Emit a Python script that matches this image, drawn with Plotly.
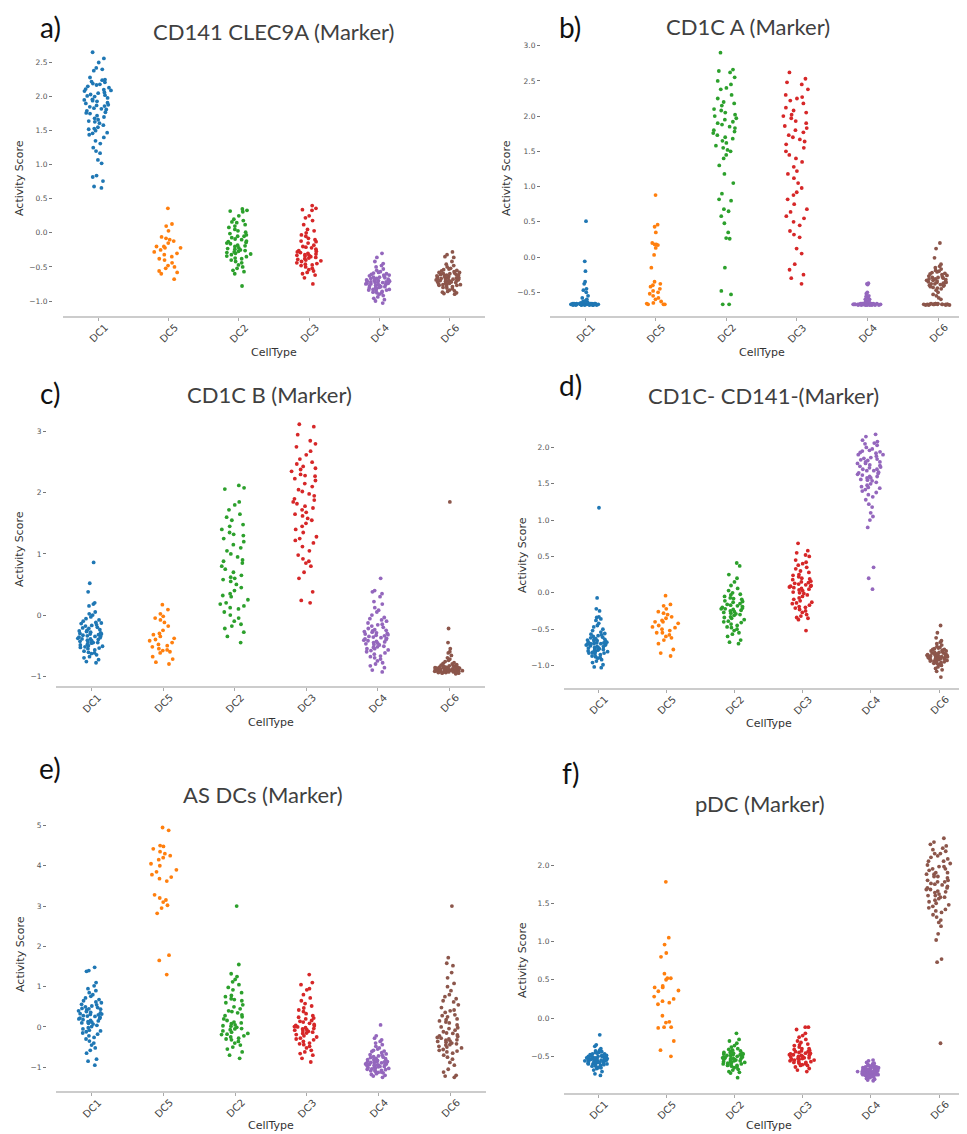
import plotly.graph_objects as go

# ---------------- categories / styling -----------------
categories = ["DC1", "DC5", "DC2", "DC3", "DC4", "DC6"]
colors = ["#1f77b4", "#ff7f0e", "#2ca02c", "#d62728", "#9467bd", "#8c564b"]
panel_labels = ["a)", "b)", "c)", "d)", "e)", "f)"]
panel_titles = ["CD141 CLEC9A (Marker)", "CD1C A (Marker)", "CD1C B (Marker)",
                "CD1C- CD141-(Marker)", "AS DCs (Marker)", "pDC (Marker)"]
x_title = "CellType"
y_title = "Activity Score"

# ---------------- panel a: CD141 CLEC9A -----------------
a_DC1 = [2.65, 2.56, 2.50, 2.42, 2.40, 2.38, 2.28, 2.25, 2.24, 2.22, 2.21, 2.19, 2.17, 2.15, 2.13, 2.11,
         2.10, 2.08, 2.06, 2.05, 2.03, 2.01, 2.00, 1.98, 1.96, 1.95, 1.93, 1.91, 1.90, 1.88, 1.86, 1.85,
         1.83, 1.81, 1.79, 1.77, 1.75, 1.72, 1.70, 1.68, 1.66, 1.63, 1.61, 1.58, 1.55, 1.52, 1.50, 1.47,
         1.44, 1.40, 1.35, 1.31, 1.25, 1.20, 1.17, 1.07, 1.02, 0.84, 0.82, 0.68, 0.66, 0.76,
         2.18, 2.09, 2.02, 1.94, 1.87, 1.82, 1.76, 1.64, 1.53, 1.46]
a_DC5 = [0.36, 0.13, 0.10, 0.03, -0.06, -0.08, -0.12, -0.15, -0.20, -0.20, -0.22, -0.25, -0.28, -0.30,
         -0.32, -0.35, -0.38, -0.40, -0.44, -0.48, -0.50, -0.52, -0.56, -0.58, -0.60, -0.68, -0.22, -0.10]
a_DC2 = [0.35, 0.33, 0.32, 0.31, 0.25, 0.18, 0.16, 0.15, 0.12, 0.10, 0.08, 0.05, 0.03, 0.01, -0.01, -0.03,
         -0.05, -0.07, -0.09, -0.10, -0.12, -0.13, -0.15, -0.16, -0.18, -0.19, -0.20, -0.22, -0.23, -0.25,
         -0.26, -0.27, -0.28, -0.30, -0.31, -0.32, -0.34, -0.35, -0.37, -0.38, -0.40, -0.42, -0.44, -0.47,
         -0.50, -0.52, -0.55, -0.57, -0.60, -0.78, -0.14, -0.24, -0.29, -0.05, 0.20]
a_DC3 = [0.40, 0.36, 0.34, 0.33, 0.25, 0.22, 0.18, 0.12, 0.05, 0.03, 0.00, -0.03, -0.05, -0.08, -0.10,
         -0.13, -0.15, -0.18, -0.20, -0.22, -0.24, -0.26, -0.28, -0.29, -0.30, -0.31, -0.32, -0.33, -0.34,
         -0.35, -0.36, -0.37, -0.38, -0.40, -0.41, -0.42, -0.44, -0.45, -0.47, -0.48, -0.50, -0.52, -0.54,
         -0.56, -0.58, -0.60, -0.62, -0.66, -0.75, -0.27, -0.33, -0.39, -0.46, -0.21, -0.12]
a_DC4 = [-0.30, -0.36, -0.42, -0.45, -0.48, -0.50, -0.53, -0.55, -0.57, -0.58, -0.60, -0.61, -0.62, -0.63,
         -0.64, -0.65, -0.66, -0.67, -0.68, -0.69, -0.70, -0.70, -0.71, -0.72, -0.72, -0.73, -0.74, -0.74,
         -0.75, -0.76, -0.76, -0.77, -0.78, -0.79, -0.80, -0.81, -0.82, -0.83, -0.84, -0.85, -0.86, -0.87,
         -0.88, -0.90, -0.92, -0.94, -0.96, -0.98, -1.00, -1.03, -0.69, -0.73, -0.77, -0.81, -0.65, -0.59,
         -0.71, -0.75, -0.83, -0.88, -0.62, -0.79, -0.67, -0.72, -0.78, -0.84, -0.70, -0.74]
a_DC6 = [-0.28, -0.32, -0.35, -0.36, -0.42, -0.46, -0.48, -0.50, -0.52, -0.54, -0.55, -0.57, -0.58, -0.59,
         -0.60, -0.61, -0.62, -0.63, -0.64, -0.65, -0.65, -0.66, -0.67, -0.67, -0.68, -0.68, -0.69, -0.70,
         -0.70, -0.71, -0.72, -0.72, -0.73, -0.74, -0.75, -0.76, -0.77, -0.78, -0.79, -0.80, -0.82, -0.84,
         -0.86, -0.87, -0.88, -0.89, -0.90, -0.62, -0.66, -0.69, -0.71, -0.74, -0.56, -0.64, -0.75, -0.81,
         -0.58, -0.63, -0.70, -0.77, -0.53, -0.85, -0.60, -0.66, -0.68, -0.72, -0.76, -0.61]

# ---------------- panel b: CD1C A -----------------
b_DC1 = [0.51, -0.06, -0.20, -0.35, -0.38, -0.45, -0.47, -0.50, -0.55, -0.58, -0.60, -0.62, -0.63, -0.64,
         -0.65, -0.65, -0.66, -0.66, -0.67, -0.67, -0.66, -0.67, -0.68, -0.67, -0.67, -0.66, -0.67, -0.68,
         -0.67, -0.67, -0.66, -0.67, -0.68, -0.67, -0.67, -0.66, -0.67, -0.68, -0.67, -0.67, -0.66, -0.67,
         -0.68, -0.67, -0.67, -0.66, -0.67, -0.68, -0.67, -0.67, -0.66, -0.67, -0.68, -0.67, -0.67, -0.66,
         -0.67, -0.68, -0.67, -0.67, -0.66, -0.67]
b_DC5 = [0.88, 0.46, 0.43, 0.35, 0.20, 0.18, 0.18, 0.17, 0.13, 0.03, -0.15, -0.35, -0.38, -0.40, -0.42,
         -0.45, -0.48, -0.50, -0.52, -0.55, -0.58, -0.60, -0.63, -0.65, -0.66, -0.67, -0.67, -0.67]
b_DC2 = [2.90, 2.66, 2.64, 2.62, 2.55, 2.50, 2.45, 2.40, 2.38, 2.30, 2.25, 2.20, 2.18, 2.15, 2.10, 2.08,
         2.05, 2.02, 2.00, 1.97, 1.95, 1.92, 1.90, 1.88, 1.85, 1.83, 1.80, 1.78, 1.76, 1.73, 1.70, 1.68,
         1.65, 1.62, 1.58, 1.55, 1.52, 1.50, 1.45, 1.40, 1.30, 1.18, 1.05, 0.90, 0.82, 0.80, 0.68, 0.65,
         0.58, 0.48, 0.35, 0.27, 0.26, -0.15, -0.48, -0.53, -0.67, -0.67]
b_DC3 = [2.62, 2.53, 2.48, 2.45, 2.38, 2.30, 2.27, 2.25, 2.22, 2.18, 2.12, 2.08, 2.05, 2.02, 2.00, 1.97,
         1.93, 1.90, 1.86, 1.83, 1.80, 1.77, 1.73, 1.70, 1.67, 1.64, 1.60, 1.55, 1.50, 1.45, 1.40, 1.35,
         1.28, 1.22, 1.18, 1.12, 1.05, 0.98, 0.92, 0.88, 0.82, 0.75, 0.68, 0.64, 0.58, 0.55, 0.50, 0.45,
         0.37, 0.32, 0.28, 0.12, 0.05, -0.10, -0.18, -0.25, -0.30, -0.38]
b_DC4 = [-0.37, -0.38, -0.39, -0.50, -0.52, -0.55, -0.56, -0.58, -0.60, -0.60, -0.62, -0.63, -0.63, -0.64,
         -0.65, -0.65, -0.66, -0.66, -0.67, -0.67, -0.66, -0.67, -0.68, -0.67, -0.67, -0.66, -0.67, -0.68,
         -0.67, -0.67, -0.66, -0.67, -0.68, -0.67, -0.67, -0.66, -0.67, -0.68, -0.67, -0.67, -0.66, -0.67,
         -0.68, -0.67, -0.67, -0.66, -0.67, -0.68, -0.67, -0.67, -0.66, -0.67, -0.68, -0.67, -0.67, -0.66,
         -0.67, -0.68, -0.67, -0.67, -0.66, -0.67]
b_DC6 = [0.20, 0.12, -0.01, -0.10, -0.13, -0.15, -0.17, -0.19, -0.20, -0.22, -0.23, -0.25, -0.26, -0.28,
         -0.29, -0.30, -0.31, -0.32, -0.33, -0.34, -0.35, -0.36, -0.37, -0.38, -0.39, -0.40, -0.41, -0.42,
         -0.43, -0.45, -0.47, -0.50, -0.53, -0.55, -0.58, -0.60, -0.27, -0.33, -0.36, -0.40, -0.24, -0.31,
         -0.67, -0.66, -0.67, -0.68, -0.67, -0.67, -0.66, -0.67, -0.68, -0.67, -0.67, -0.66, -0.67, -0.68,
         -0.67, -0.67, -0.66, -0.67, -0.68, -0.67, -0.29, -0.35, -0.38, -0.44, -0.21, -0.32]

# ---------------- panel c: CD1C B -----------------
c_DC1 = [0.86, 0.52, 0.38, 0.20, 0.18, 0.15, 0.05, 0.02, 0.00, -0.03, -0.06, -0.08, -0.10, -0.12, -0.14,
         -0.16, -0.18, -0.20, -0.22, -0.24, -0.25, -0.27, -0.28, -0.30, -0.31, -0.32, -0.34, -0.35, -0.36,
         -0.38, -0.39, -0.40, -0.42, -0.43, -0.45, -0.46, -0.48, -0.50, -0.51, -0.53, -0.55, -0.57, -0.59,
         -0.61, -0.63, -0.65, -0.68, -0.70, -0.73, -0.76, -0.78, -0.33, -0.37, -0.41, -0.29, -0.44, -0.21,
         -0.26, -0.49, -0.17, -0.54, -0.62, -0.35, -0.39, -0.31, -0.45, -0.13, -0.52]
c_DC5 = [0.17, 0.09, 0.02, -0.02, -0.05, -0.08, -0.12, -0.18, -0.25, -0.32, -0.35, -0.38, -0.42, -0.45,
         -0.48, -0.50, -0.52, -0.55, -0.57, -0.60, -0.62, -0.68, -0.72, -0.77, -0.80, -0.40, -0.30, -0.58]
c_DC2 = [2.12, 2.08, 2.06, 1.85, 1.80, 1.72, 1.65, 1.60, 1.55, 1.48, 1.45, 1.40, 1.35, 1.30, 1.25, 1.20,
         1.15, 1.10, 1.05, 1.00, 0.95, 0.90, 0.85, 0.80, 0.75, 0.70, 0.65, 0.60, 0.58, 0.55, 0.50, 0.45,
         0.40, 0.35, 0.30, 0.25, 0.20, 0.18, 0.15, 0.10, 0.05, 0.00, -0.05, -0.10, -0.15, -0.18, -0.22,
         -0.28, -0.35, -0.45, 0.62, 0.32, 1.32, 0.88, 0.12]
c_DC3 = [3.12, 3.08, 2.95, 2.85, 2.80, 2.75, 2.68, 2.62, 2.55, 2.50, 2.47, 2.43, 2.40, 2.35, 2.30, 2.27,
         2.23, 2.20, 2.15, 2.10, 2.05, 2.02, 1.98, 1.95, 1.90, 1.85, 1.82, 1.78, 1.75, 1.72, 1.68, 1.62,
         1.58, 1.55, 1.50, 1.45, 1.40, 1.35, 1.28, 1.22, 1.18, 1.12, 1.05, 0.98, 0.92, 0.88, 0.85, 0.80,
         0.70, 0.60, 0.38, 0.24, 0.20, 1.88, 2.28, 1.65, 2.38, 1.25]
c_DC4 = [0.60, 0.40, 0.38, 0.35, 0.30, 0.22, 0.18, 0.12, 0.08, 0.05, 0.00, -0.04, -0.08, -0.10, -0.13,
         -0.15, -0.18, -0.20, -0.22, -0.25, -0.27, -0.28, -0.30, -0.32, -0.33, -0.35, -0.36, -0.38, -0.40,
         -0.41, -0.43, -0.45, -0.47, -0.49, -0.51, -0.53, -0.55, -0.57, -0.60, -0.62, -0.64, -0.67, -0.70,
         -0.72, -0.75, -0.78, -0.80, -0.83, -0.86, -0.90, -0.93, -0.34, -0.39, -0.44, -0.29, -0.24, -0.48,
         -0.52, -0.16, -0.58, -0.06, -0.68, -0.37, -0.42, -0.31, -0.46, -0.55, -0.26]
c_DC6 = [1.85, -0.22, -0.45, -0.55, -0.60, -0.62, -0.66, -0.70, -0.72, -0.74, -0.76, -0.78, -0.79, -0.80,
         -0.81, -0.82, -0.83, -0.84, -0.84, -0.85, -0.85, -0.86, -0.86, -0.87, -0.87, -0.88, -0.88, -0.88,
         -0.89, -0.89, -0.89, -0.90, -0.90, -0.90, -0.90, -0.91, -0.91, -0.91, -0.92, -0.92, -0.92, -0.93,
         -0.93, -0.93, -0.94, -0.94, -0.95, -0.95, -0.96, -0.86, -0.87, -0.88, -0.89, -0.90, -0.91, -0.92,
         -0.83, -0.85, -0.89, -0.90, -0.91, -0.93, -0.87, -0.88, -0.90, -0.92, -0.94, -0.86]

# ---------------- panel d: CD1C- CD141- -----------------
d_DC1 = [1.17, -0.07, -0.22, -0.25, -0.33, -0.34, -0.36, -0.38, -0.42, -0.45, -0.47, -0.50, -0.52, -0.54,
         -0.56, -0.58, -0.59, -0.60, -0.62, -0.63, -0.64, -0.65, -0.66, -0.67, -0.68, -0.69, -0.70, -0.70,
         -0.71, -0.72, -0.73, -0.74, -0.75, -0.76, -0.77, -0.78, -0.79, -0.80, -0.81, -0.82, -0.83, -0.84,
         -0.85, -0.87, -0.88, -0.89, -0.90, -0.92, -0.94, -0.96, -0.99, -1.02, -1.03, -0.68, -0.72, -0.75,
         -0.61, -0.66, -0.79, -0.57, -0.83, -0.70, -0.64, -0.71, -0.74, -0.77, -0.81, -0.69]
d_DC5 = [-0.04, -0.16, -0.18, -0.22, -0.26, -0.28, -0.30, -0.33, -0.35, -0.38, -0.40, -0.40, -0.42, -0.45,
         -0.47, -0.50, -0.52, -0.55, -0.55, -0.58, -0.60, -0.62, -0.65, -0.70, -0.78, -0.83, -0.87, -0.48]
d_DC2 = [0.41, 0.37, 0.25, 0.20, 0.15, 0.10, 0.06, 0.03, 0.00, -0.03, -0.05, -0.07, -0.09, -0.11, -0.13,
         -0.15, -0.17, -0.18, -0.20, -0.21, -0.22, -0.23, -0.25, -0.26, -0.27, -0.28, -0.30, -0.31, -0.33,
         -0.35, -0.37, -0.39, -0.41, -0.43, -0.45, -0.47, -0.50, -0.52, -0.55, -0.57, -0.60, -0.65, -0.68,
         -0.70, -0.19, -0.24, -0.12, -0.29, -0.16, -0.34, -0.08, -0.22, -0.40, -0.02, -0.48]
d_DC3 = [0.68, 0.58, 0.55, 0.52, 0.50, 0.45, 0.40, 0.38, 0.35, 0.30, 0.28, 0.25, 0.22, 0.20, 0.18, 0.16,
         0.14, 0.12, 0.10, 0.09, 0.08, 0.06, 0.05, 0.03, 0.01, -0.01, -0.03, -0.05, -0.07, -0.09, -0.11,
         -0.13, -0.15, -0.17, -0.19, -0.21, -0.23, -0.25, -0.27, -0.30, -0.32, -0.35, -0.37, -0.52, 0.11,
         0.13, 0.07, 0.15, 0.04, 0.19, 0.00, -0.14, 0.24, 0.33, -0.20, 0.42, -0.34, 0.09]
d_DC4 = [2.18, 2.15, 2.10, 2.08, 2.06, 2.05, 2.03, 2.00, 1.98, 1.96, 1.94, 1.92, 1.90, 1.88, 1.86, 1.84,
         1.82, 1.80, 1.78, 1.76, 1.74, 1.72, 1.70, 1.68, 1.66, 1.64, 1.62, 1.60, 1.58, 1.56, 1.54, 1.52,
         1.50, 1.48, 1.46, 1.44, 1.42, 1.40, 1.38, 1.35, 1.32, 1.28, 1.22, 1.18, 1.10, 1.05, 1.00, 0.90,
         0.35, 0.20, 0.05, 1.85, 1.75, 1.65, 1.55, 1.95, 1.70, 1.60, 1.80, 1.45, 1.90, 1.78,
         1.83, 1.73, 1.63, 1.93, 1.68, 1.58]
d_DC6 = [-0.45, -0.55, -0.62, -0.66, -0.68, -0.70, -0.72, -0.74, -0.75, -0.76, -0.77, -0.78, -0.79, -0.80,
         -0.81, -0.82, -0.83, -0.84, -0.85, -0.85, -0.86, -0.86, -0.87, -0.87, -0.88, -0.88, -0.89, -0.89,
         -0.90, -0.90, -0.91, -0.91, -0.92, -0.92, -0.93, -0.94, -0.95, -0.96, -0.97, -0.98, -0.99, -1.00,
         -1.02, -1.04, -1.06, -1.08, -1.16, -0.84, -0.86, -0.88, -0.90, -0.92, -0.80, -0.83, -0.87, -0.89,
         -0.93, -0.95, -0.78, -0.97, -0.85, -0.91, -0.82, -0.86, -0.88, -0.90, -0.94, -0.87]

# ---------------- panel e: AS DCs -----------------
e_DC1 = [1.48, 1.40, 1.38, 1.10, 1.02, 0.95, 0.90, 0.85, 0.80, 0.76, 0.72, 0.68, 0.65, 0.60, 0.56, 0.52,
         0.48, 0.45, 0.42, 0.38, 0.35, 0.32, 0.30, 0.27, 0.24, 0.21, 0.18, 0.15, 0.12, 0.10, 0.07, 0.04,
         0.01, -0.02, -0.05, -0.08, -0.12, -0.15, -0.18, -0.22, -0.26, -0.30, -0.35, -0.40, -0.45, -0.52,
         -0.58, -0.65, -0.80, -0.85, -0.95, 0.28, 0.33, 0.22, 0.40, 0.16, 0.50, 0.09, 0.62, 0.26, -0.10, 0.44,
         0.36, 0.20, 0.55, 0.13, 0.46, 0.31]
e_DC5 = [4.95, 4.88, 4.50, 4.48, 4.42, 4.35, 4.30, 4.25, 4.20, 4.15, 4.05, 4.00, 3.90, 3.85, 3.78, 3.72,
         3.68, 3.62, 3.28, 3.20, 3.15, 3.02, 2.95, 2.82, 1.78, 1.65, 1.30, 3.10]
e_DC2 = [3.00, 1.55, 1.32, 1.25, 1.18, 1.12, 1.05, 0.98, 0.92, 0.85, 0.78, 0.75, 0.70, 0.65, 0.60, 0.55,
         0.50, 0.45, 0.40, 0.35, 0.30, 0.25, 0.20, 0.16, 0.12, 0.08, 0.05, 0.02, -0.01, -0.04, -0.07,
         -0.10, -0.13, -0.16, -0.19, -0.22, -0.25, -0.28, -0.32, -0.36, -0.40, -0.45, -0.50, -0.55, -0.62,
         -0.70, -0.78, 0.10, 0.03, -0.18, 0.28, 0.68, -0.05, 0.38, -0.30]
e_DC3 = [1.30, 1.10, 1.05, 0.95, 0.92, 0.80, 0.72, 0.65, 0.58, 0.52, 0.47, 0.42, 0.38, 0.33, 0.28, 0.24,
         0.20, 0.16, 0.12, 0.09, 0.06, 0.03, 0.00, -0.02, -0.05, -0.08, -0.10, -0.13, -0.16, -0.19, -0.22,
         -0.25, -0.28, -0.32, -0.36, -0.40, -0.44, -0.48, -0.52, -0.58, -0.62, -0.66, -0.70, -0.78, -0.87,
         -0.07, -0.11, 0.04, -0.15, 0.14, -0.04, -0.30, 0.22, -0.42, 0.01]
e_DC4 = [0.05, -0.22, -0.28, -0.32, -0.36, -0.40, -0.44, -0.48, -0.52, -0.55, -0.58, -0.61, -0.64, -0.67,
         -0.70, -0.72, -0.74, -0.76, -0.78, -0.80, -0.82, -0.84, -0.86, -0.88, -0.90, -0.92, -0.94, -0.96,
         -0.98, -1.00, -1.02, -1.04, -1.06, -1.08, -1.10, -1.12, -1.14, -1.16, -1.18, -1.20, -1.22, -1.25,
         -0.85, -0.89, -0.93, -0.97, -1.01, -0.87, -0.91, -0.95, -1.05, -0.79, -0.83, -0.99, -1.09, -0.75,
         -0.69, -1.13, -0.60, -0.95, -1.03, -0.88, -0.92, -0.98, -0.86, -1.07, -0.81, -0.94]
e_DC6 = [3.00, 1.72, 1.58, 1.52, 1.35, 1.22, 1.08, 1.00, 0.90, 0.80, 0.75, 0.70, 0.62, 0.55, 0.48, 0.42,
         0.36, 0.30, 0.25, 0.20, 0.15, 0.10, 0.05, 0.00, -0.04, -0.08, -0.12, -0.16, -0.20, -0.24, -0.28,
         -0.32, -0.36, -0.40, -0.44, -0.48, -0.52, -0.56, -0.60, -0.65, -0.70, -0.75, -0.80, -0.88, -0.95,
         -1.05, -1.12, -1.20, -1.22, -1.25, -0.35, -0.38, -0.42, -0.30, -0.45, -0.22, -0.02, 0.28, -0.58,
         0.40, -0.15, 0.12, -0.33, -0.50, 0.18, -0.62, 0.65, -0.26]

# ---------------- panel f: pDC -----------------
f_DC1 = [-0.22, -0.35, -0.37, -0.40, -0.42, -0.43, -0.44, -0.45, -0.46, -0.47, -0.48, -0.49, -0.50, -0.50,
         -0.51, -0.52, -0.52, -0.53, -0.53, -0.54, -0.54, -0.55, -0.55, -0.56, -0.56, -0.57, -0.57, -0.58,
         -0.58, -0.59, -0.59, -0.60, -0.60, -0.61, -0.62, -0.63, -0.64, -0.65, -0.66, -0.68, -0.70, -0.73,
         -0.75, -0.52, -0.54, -0.56, -0.58, -0.50, -0.53, -0.55, -0.57, -0.49, -0.61, -0.47, -0.63, -0.51,
         -0.55, -0.59, -0.45, -0.65, -0.53, -0.57, -0.54, -0.56, -0.52, -0.58, -0.50, -0.60]
f_DC5 = [1.78, 1.05, 0.96, 0.85, 0.80, 0.58, 0.52, 0.52, 0.50, 0.42, 0.40, 0.40, 0.36, 0.28, 0.25, 0.22,
         0.20, 0.18, 0.03, -0.05, -0.06, -0.12, -0.13, -0.12, -0.30, -0.42, -0.50, 0.35]
f_DC2 = [-0.20, -0.28, -0.30, -0.33, -0.36, -0.38, -0.40, -0.42, -0.43, -0.44, -0.45, -0.46, -0.47, -0.48,
         -0.49, -0.50, -0.51, -0.52, -0.53, -0.54, -0.55, -0.56, -0.57, -0.58, -0.59, -0.60, -0.61, -0.62,
         -0.63, -0.65, -0.67, -0.70, -0.71, -0.72, -0.78, -0.50, -0.52, -0.54, -0.48, -0.56, -0.46, -0.58,
         -0.53, -0.51, -0.55, -0.60, -0.45, -0.64, -0.49, -0.57, -0.41, -0.62, -0.53, -0.68, -0.47]
f_DC3 = [-0.12, -0.12, -0.15, -0.20, -0.23, -0.25, -0.28, -0.30, -0.32, -0.34, -0.36, -0.38, -0.40, -0.41,
         -0.42, -0.43, -0.44, -0.45, -0.46, -0.47, -0.48, -0.49, -0.50, -0.51, -0.52, -0.53, -0.54, -0.55,
         -0.56, -0.57, -0.58, -0.59, -0.60, -0.61, -0.62, -0.64, -0.66, -0.68, -0.70, -0.50, -0.52, -0.48,
         -0.55, -0.46, -0.53, -0.44, -0.57, -0.51, -0.40, -0.62, -0.35, -0.49, -0.54, -0.58, -0.47]
f_DC4 = [-0.55, -0.56, -0.58, -0.59, -0.60, -0.61, -0.62, -0.63, -0.64, -0.64, -0.65, -0.65, -0.66, -0.66,
         -0.67, -0.67, -0.68, -0.68, -0.69, -0.69, -0.70, -0.70, -0.70, -0.71, -0.71, -0.72, -0.72, -0.73,
         -0.73, -0.74, -0.74, -0.75, -0.75, -0.76, -0.77, -0.78, -0.79, -0.80, -0.81, -0.82, -0.66, -0.68,
         -0.70, -0.72, -0.74, -0.67, -0.69, -0.71, -0.73, -0.63, -0.65, -0.75, -0.77, -0.62, -0.68, -0.70,
         -0.72, -0.66, -0.71, -0.74, -0.69, -0.76, -0.67, -0.70, -0.73, -0.65, -0.71, -0.68]
f_DC6 = [2.35, 2.30, 2.27, 2.25, 2.22, 2.20, 2.18, 2.15, 2.12, 2.10, 2.08, 2.05, 2.02, 2.00, 1.98, 1.95,
         1.93, 1.90, 1.88, 1.85, 1.83, 1.80, 1.78, 1.76, 1.74, 1.72, 1.70, 1.68, 1.66, 1.64, 1.62, 1.60,
         1.58, 1.56, 1.54, 1.52, 1.50, 1.48, 1.46, 1.44, 1.42, 1.40, 1.38, 1.35, 1.32, 1.28, 1.25, 1.20,
         1.10, 1.02, 0.77, 0.73, -0.33, 1.95, 1.85, 1.75, 1.65, 2.05, 1.80, 1.70, 1.90, 1.60,
         1.88, 1.78, 1.68, 1.98, 1.58, 2.15]

# ---------------- y tick values -----------------
yticks_a = [-1.0, -0.5, 0.0, 0.5, 1.0, 1.5, 2.0, 2.5]
yticks_b = [-0.5, 0.0, 0.5, 1.0, 1.5, 2.0, 2.5, 3.0]
yticks_c = [-1, 0, 1, 2, 3]
yticks_d = [-1.0, -0.5, 0.0, 0.5, 1.0, 1.5, 2.0]
yticks_e = [-1, 0, 1, 2, 3, 4, 5]
yticks_f = [-0.5, 0.0, 0.5, 1.0, 1.5, 2.0]

panel_data = [
    [a_DC1, a_DC5, a_DC2, a_DC3, a_DC4, a_DC6],
    [b_DC1, b_DC5, b_DC2, b_DC3, b_DC4, b_DC6],
    [c_DC1, c_DC5, c_DC2, c_DC3, c_DC4, c_DC6],
    [d_DC1, d_DC5, d_DC2, d_DC3, d_DC4, d_DC6],
    [e_DC1, e_DC5, e_DC2, e_DC3, e_DC4, e_DC6],
    [f_DC1, f_DC5, f_DC2, f_DC3, f_DC4, f_DC6],
]
panel_yticks = [yticks_a, yticks_b, yticks_c, yticks_d, yticks_e, yticks_f]

# ---------------- layout geometry (page pixels) -----------------
PAGE_W, PAGE_H = 967, 1134
OFF = 8  # default body margin of the html page
W, H = PAGE_W - OFF, PAGE_H - OFF
geom = [
    dict(x0=63, x1=485, xr=[-0.5, 5.5], y0=40, y1=316, yr=[-1.22, 2.83], fmt=".1f", yax=52,
         lab=(50, 27), tit=(273, 31), ylab=(20, 178), xtick_y=333, xlab_y=352),
    dict(x0=550, x1=967, xr=[-0.5, 5.41], y0=40, y1=316, yr=[-0.836, 3.08], fmt=".1f", yax=540,
         lab=(570, 27), tit=(748, 26), ylab=(507, 178), xtick_y=333, xlab_y=352),
    dict(x0=56, x1=485, xr=[-0.5, 5.5], y0=412, y1=686, yr=[-1.16, 3.32], fmt="d", yax=46,
         lab=(50, 393), tit=(269, 394), ylab=(20, 549), xtick_y=703, xlab_y=722),
    dict(x0=564, x1=967, xr=[-0.5, 5.41], y0=422, y1=688, yr=[-1.31, 2.35], fmt=".1f", yax=554,
         lab=(570, 385), tit=(763, 395), ylab=(522, 555), xtick_y=705, xlab_y=723),
    dict(x0=56, x1=486, xr=[-0.5, 5.5], y0=815, y1=1091, yr=[-1.59, 5.26], fmt="d", yax=46,
         lab=(50, 768), tit=(263, 794), ylab=(20, 954), xtick_y=1108, xlab_y=1125),
    dict(x0=564, x1=967, xr=[-0.5, 5.41], y0=826, y1=1093, yr=[-0.98, 2.51], fmt=".1f", yax=554,
         lab=(570, 773), tit=(760, 803), ylab=(522, 960), xtick_y=1110, xlab_y=1125),
]


def px(x):
    return min(1.0, max(0.0, (x - OFF) / W))


def py(y):
    return min(1.0, max(0.0, 1 - (y - OFF) / H))


fig = go.Figure()
layout = dict(
    width=W, height=H, margin=dict(l=0, r=0, t=0, b=0),
    paper_bgcolor="white", plot_bgcolor="white", showlegend=False,
    boxmode="overlay", boxgap=0.3,
)
annotations = []
tick_font = dict(family="DejaVu Sans", size=7.5, color="#555555")
lab_font = dict(family="DejaVu Sans", size=11, color="#333333")

for p, (vals_list, g, ticks) in enumerate(zip(panel_data, geom, panel_yticks)):
    n = "" if p == 0 else str(p + 1)
    xa, ya = "x" + n, "y" + n
    for cat, col, vals in zip(categories, colors, vals_list):
        fig.add_trace(go.Box(
            y=vals, name=cat, xaxis=xa, yaxis=ya,
            boxpoints="all", jitter=0.85, pointpos=0,
            marker=dict(color=col, size=3.8, line=dict(width=0)),
            line=dict(width=0, color="rgba(0,0,0,0)"),
            fillcolor="rgba(0,0,0,0)", hoveron="points", showlegend=False,
        ))
    layout["xaxis" + n] = dict(
        domain=[px(g["x0"]), px(g["x1"])], anchor=ya, type="category",
        categoryorder="array", categoryarray=categories, range=g["xr"],
        showline=True, linecolor="#cccccc", linewidth=1.5, showgrid=False, zeroline=False,
        ticks="outside", ticklen=3, tickwidth=1, tickcolor="#aaaaaa", showticklabels=False,
    )
    layout["yaxis" + n] = dict(
        domain=[py(g["y1"]), py(g["y0"])], anchor="free", position=px(g["yax"]),
        range=g["yr"], tickmode="array", tickvals=ticks, tickformat=g["fmt"],
        showline=False, showgrid=False, zeroline=False,
        ticks="outside", ticklen=3, tickwidth=1, tickcolor="#777777", tickfont=tick_font,
    )
    # rotated category labels
    for i, cat in enumerate(categories):
        annotations.append(dict(
            x=i, xref=xa, y=py(g["xtick_y"]), yref="paper", text=cat, showarrow=False,
            textangle=-45, font=dict(family="DejaVu Sans", size=10, color="#444444"),
            xanchor="center", yanchor="middle"))
    annotations.append(dict(
        x=2.5, xref=xa, y=py(g["xlab_y"]), yref="paper", text=x_title, showarrow=False,
        font=lab_font, xanchor="center", yanchor="middle"))
    annotations.append(dict(
        x=px(g["ylab"][0]), xref="paper", y=py(g["ylab"][1]), yref="paper", text=y_title,
        showarrow=False, textangle=-90, font=lab_font, xanchor="center", yanchor="middle"))
    annotations.append(dict(
        x=px(g["tit"][0]), xref="paper", y=py(g["tit"][1]), yref="paper", text=panel_titles[p],
        showarrow=False, font=dict(family="Lato", size=22, color="#404040"),
        xanchor="center", yanchor="middle"))
    annotations.append(dict(
        x=px(g["lab"][0]), xref="paper", y=py(g["lab"][1]), yref="paper", text=panel_labels[p],
        showarrow=False, font=dict(family="Lato", size=28, color="#111111"),
        xanchor="center", yanchor="middle"))

layout["annotations"] = annotations
fig.update_layout(**layout)
fig.write_html("out.html")
